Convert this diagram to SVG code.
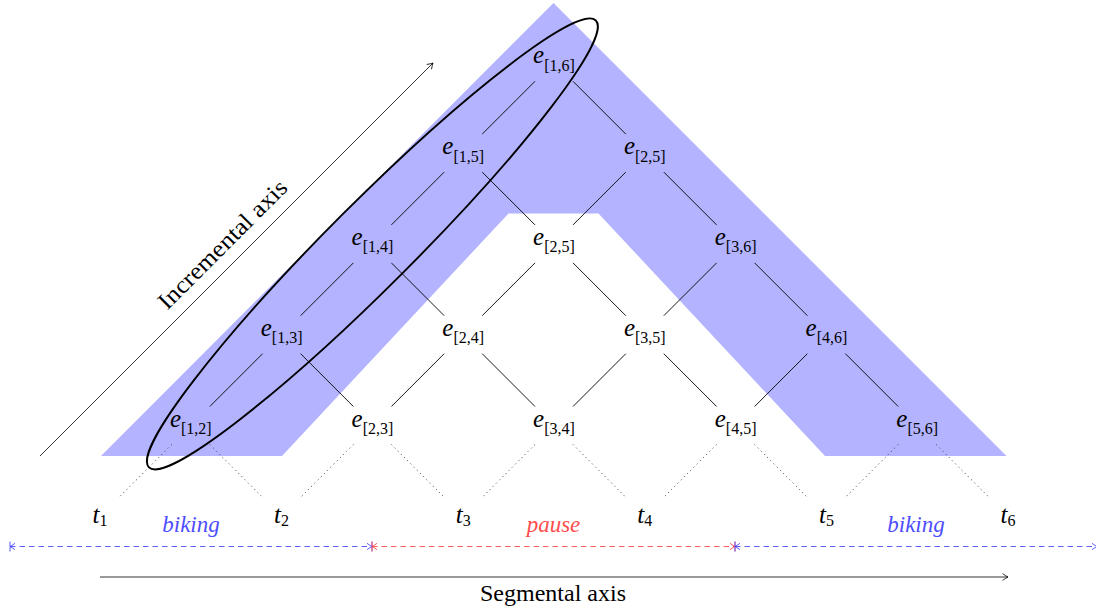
<svg xmlns="http://www.w3.org/2000/svg" width="1096" height="613" viewBox="0 0 1096 613">
<style>
.lbl{font-family:"Liberation Serif","Times New Roman",serif;fill:#000}
.it{font-style:italic;font-size:25px}
.sub{font-size:16px}
.edge{stroke:#000;stroke-width:0.9;fill:none}
.dot{stroke:#333;stroke-width:1;stroke-dasharray:1 3.5;fill:none}
.axis{stroke:#000;stroke-width:0.8;fill:none}
.dashB{stroke:#4d4dff;stroke-width:0.9;stroke-dasharray:5.5 4;fill:none}
.dashR{stroke:#ff4d4d;stroke-width:0.9;stroke-dasharray:5.5 4;fill:none}
.ax{font-family:"Liberation Serif","Times New Roman",serif;font-size:24px;fill:#000}
.act{font-family:"Liberation Serif","Times New Roman",serif;font-size:23px;font-style:italic}
</style>
<defs>
<marker id="arr" viewBox="-7 -5 8 10" refX="0" refY="0" markerWidth="8" markerHeight="10" markerUnits="userSpaceOnUse" orient="auto">
<path d="M-5.5,-3.4 Q-1.6,-0.7 0,0 Q-1.6,0.7 -5.5,3.4" fill="none" stroke="#000" stroke-width="0.8"/>
</marker>
<marker id="barB" viewBox="-7 -6 8 12" refX="0" refY="0" markerWidth="8" markerHeight="12" markerUnits="userSpaceOnUse" orient="auto-start-reverse">
<path d="M0,-5 V5 M-5,-3.2 Q-1.5,-0.6 0,0 Q-1.5,0.6 -5,3.2" fill="none" stroke="#4d4dff" stroke-width="0.9"/>
</marker>
<marker id="barR" viewBox="-7 -6 8 12" refX="0" refY="0" markerWidth="8" markerHeight="12" markerUnits="userSpaceOnUse" orient="auto-start-reverse">
<path d="M0,-5 V5 M-5,-3.2 Q-1.5,-0.6 0,0 Q-1.5,0.6 -5,3.2" fill="none" stroke="#ff4d4d" stroke-width="0.9"/>
</marker>
</defs>
<rect width="1096" height="613" fill="#fff"/>
<polygon id="band" points="553.5,3 1006.5,456 825,456 598.5,213.5 508.5,213.5 282,456 101,456" fill="#b3b3ff"/>
<g id="connectors">
<path class="edge" d="
M535,81.3 L482.2,134.1 M573,81.3 L625.8,134.1
M444.2,172.1 L391.4,224.9 M482.2,172.1 L535,224.9
M625.8,172.1 L573,224.9 M663.8,172.1 L716.6,224.9
M353.4,262.9 L300.6,315.7 M391.4,262.9 L444.2,315.7
M535,262.9 L482.2,315.7 M573,262.9 L625.8,315.7
M716.6,262.9 L663.8,315.7 M754.6,262.9 L807.4,315.7
M262.6,353.7 L209.8,406.5 M300.6,353.7 L353.4,406.5
M444.2,353.7 L391.4,406.5 M482.2,353.7 L535,406.5
M625.8,353.7 L573,406.5 M663.8,353.7 L716.6,406.5
M807.4,353.7 L754.6,406.5 M845.4,353.7 L898.2,406.5"/>
<path class="dot" d="
M171.8,444.5 L119,497.3 M209.8,444.5 L262.6,497.3
M353.4,444.5 L300.6,497.3 M391.4,444.5 L444.2,497.3
M535,444.5 L482.2,497.3 M573,444.5 L625.8,497.3
M716.6,444.5 L663.8,497.3 M754.6,444.5 L807.4,497.3
M898.2,444.5 L845.4,497.3 M936.2,444.5 L989,497.3"/>
<line id="incremental-axis" class="axis" x1="40" y1="456" x2="433" y2="63" marker-end="url(#arr)"/>
<line id="segmental-axis" class="axis" x1="100" y1="577" x2="1008" y2="577" marker-end="url(#arr)"/>
<line class="dashB" x1="10" y1="546.5" x2="372" y2="546.5" marker-start="url(#barB)" marker-end="url(#barB)"/>
<line class="dashR" x1="372" y1="546.5" x2="735" y2="546.5" marker-start="url(#barR)" marker-end="url(#barR)"/>
<line class="dashB" x1="735" y1="546.5" x2="1097" y2="546.5" marker-start="url(#barB)" marker-end="url(#barB)"/>
</g>
<g id="n16"><text class="lbl" x="554" y="63.3" text-anchor="middle"><tspan class="it">e</tspan><tspan class="sub" dy="7.5">[1,6]</tspan></text></g>
<g id="n15"><text class="lbl" x="463.2" y="154.1" text-anchor="middle"><tspan class="it">e</tspan><tspan class="sub" dy="7.5">[1,5]</tspan></text></g>
<g id="n26"><text class="lbl" x="644.8" y="154.1" text-anchor="middle"><tspan class="it">e</tspan><tspan class="sub" dy="7.5">[2,5]</tspan></text></g>
<g id="n14"><text class="lbl" x="372.4" y="244.9" text-anchor="middle"><tspan class="it">e</tspan><tspan class="sub" dy="7.5">[1,4]</tspan></text></g>
<g id="n25"><text class="lbl" x="554" y="244.9" text-anchor="middle"><tspan class="it">e</tspan><tspan class="sub" dy="7.5">[2,5]</tspan></text></g>
<g id="n36"><text class="lbl" x="735.6" y="244.9" text-anchor="middle"><tspan class="it">e</tspan><tspan class="sub" dy="7.5">[3,6]</tspan></text></g>
<g id="n13"><text class="lbl" x="281.6" y="335.7" text-anchor="middle"><tspan class="it">e</tspan><tspan class="sub" dy="7.5">[1,3]</tspan></text></g>
<g id="n24"><text class="lbl" x="463.2" y="335.7" text-anchor="middle"><tspan class="it">e</tspan><tspan class="sub" dy="7.5">[2,4]</tspan></text></g>
<g id="n35"><text class="lbl" x="644.8" y="335.7" text-anchor="middle"><tspan class="it">e</tspan><tspan class="sub" dy="7.5">[3,5]</tspan></text></g>
<g id="n46"><text class="lbl" x="826.4" y="335.7" text-anchor="middle"><tspan class="it">e</tspan><tspan class="sub" dy="7.5">[4,6]</tspan></text></g>
<g id="n12"><text class="lbl" x="190.8" y="426.5" text-anchor="middle"><tspan class="it">e</tspan><tspan class="sub" dy="7.5">[1,2]</tspan></text></g>
<g id="n23"><text class="lbl" x="372.4" y="426.5" text-anchor="middle"><tspan class="it">e</tspan><tspan class="sub" dy="7.5">[2,3]</tspan></text></g>
<g id="n34"><text class="lbl" x="554" y="426.5" text-anchor="middle"><tspan class="it">e</tspan><tspan class="sub" dy="7.5">[3,4]</tspan></text></g>
<g id="n45"><text class="lbl" x="735.6" y="426.5" text-anchor="middle"><tspan class="it">e</tspan><tspan class="sub" dy="7.5">[4,5]</tspan></text></g>
<g id="n56"><text class="lbl" x="917.2" y="426.5" text-anchor="middle"><tspan class="it">e</tspan><tspan class="sub" dy="7.5">[5,6]</tspan></text></g>
<g id="t1"><text class="lbl" x="100" y="522.5" text-anchor="middle"><tspan class="it">t</tspan><tspan class="sub" dy="3">1</tspan></text></g>
<g id="t2"><text class="lbl" x="281.6" y="522.5" text-anchor="middle"><tspan class="it">t</tspan><tspan class="sub" dy="3">2</tspan></text></g>
<g id="t3"><text class="lbl" x="463.2" y="522.5" text-anchor="middle"><tspan class="it">t</tspan><tspan class="sub" dy="3">3</tspan></text></g>
<g id="t4"><text class="lbl" x="644.8" y="522.5" text-anchor="middle"><tspan class="it">t</tspan><tspan class="sub" dy="3">4</tspan></text></g>
<g id="t5"><text class="lbl" x="826.4" y="522.5" text-anchor="middle"><tspan class="it">t</tspan><tspan class="sub" dy="3">5</tspan></text></g>
<g id="t6"><text class="lbl" x="1008" y="522.5" text-anchor="middle"><tspan class="it">t</tspan><tspan class="sub" dy="3">6</tspan></text></g>
<g id="labels">
<text class="act" x="191" y="532" text-anchor="middle" fill="#4d4dff">biking</text>
<text class="act" x="553.5" y="532" text-anchor="middle" fill="#ff4d4d">pause</text>
<text class="act" x="916" y="532" text-anchor="middle" fill="#4d4dff">biking</text>
<text class="ax" x="553" y="601" text-anchor="middle">Segmental axis</text>
<text class="ax" x="0" y="0" text-anchor="middle" font-size="26" textLength="172" lengthAdjust="spacingAndGlyphs" transform="translate(228,250) rotate(-45)">Incremental axis</text>
</g>
<ellipse id="selection" cx="372.4" cy="243.9" rx="316" ry="42" transform="rotate(-45 372.4 243.9)" fill="none" stroke="#000" stroke-width="1.9"/>
</svg>
